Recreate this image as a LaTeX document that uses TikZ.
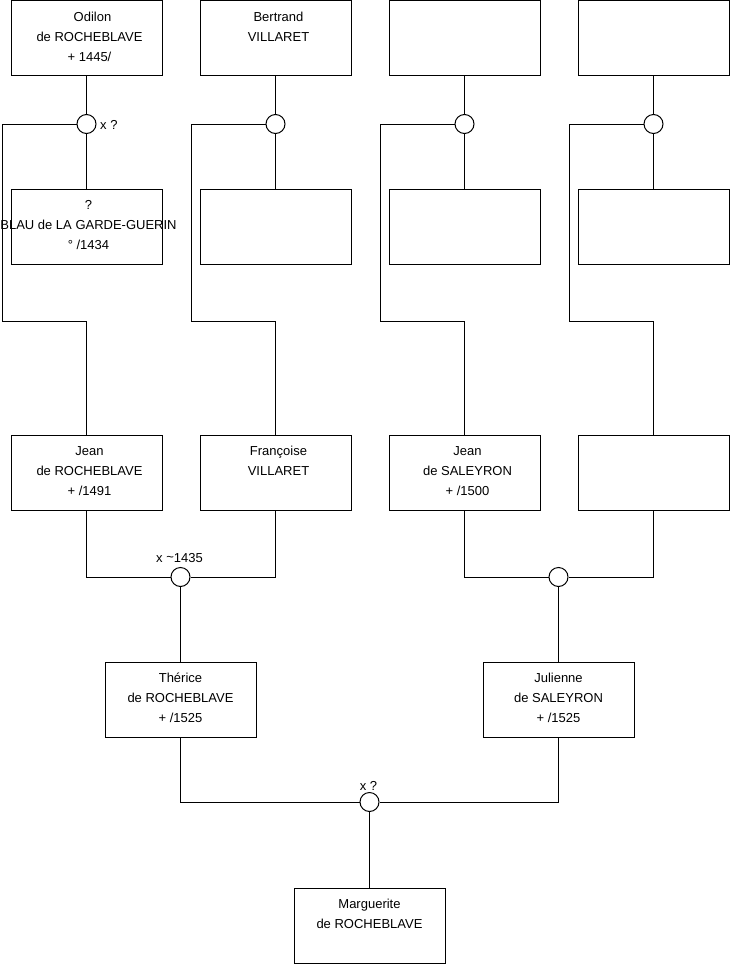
\documentclass[tikz,border=0pt]{standalone}
\usepackage{fontspec}
\setmainfont{Liberation Sans}
\begin{document}
\begin{tikzpicture}[x=1pt,y=-1pt,
  box/.style={draw, line width=1pt, minimum width=151pt, minimum height=75pt, inner sep=0pt},
  ring/.style={draw, circle, fill=white, line width=1pt, minimum size=19pt, inner sep=0pt},
  txt/.style={anchor=north, align=center, inner sep=0pt, font=\fontsize{13}{20}\selectfont},
  lbl/.style={inner sep=0pt, font=\fontsize{13}{15}\selectfont},
  wire/.style={line width=1pt}]
\clip (0,0) rectangle (740,975);
\useasboundingbox (0,0) rectangle (740,975);
% row 1
\node[box] (b1) at (86.5,38) {};
\node[box] (b2) at (275.5,38) {};
\node[box] (b3) at (464.5,38) {};
\node[box] (b4) at (653.5,38) {};
\node[txt] (b1t) at ([xshift=3pt,yshift=-11.5pt]b1.north) {\hspace*{6pt}Odilon\\de ROCHEBLAVE\\+ 1445/};
\node[txt] (b2t) at ([xshift=3pt,yshift=-11.5pt]b2.north) {Bertrand\\VILLARET};
% row 2
\node[box] (w1) at (86.5,227) {};
\node[box] (w2) at (275.5,227) {};
\node[box] (w3) at (464.5,227) {};
\node[box] (w4) at (653.5,227) {};
\node[txt] (w1t) at ([xshift=2pt,yshift=-11.5pt]w1.north) {?\\BLAU de LA GARDE-GUERIN\\° /1434};
% row 3
\node[box] (j1) at (86.5,472.5) {};
\node[box] (j2) at (275.5,472.5) {};
\node[box] (j3) at (464.5,472.5) {};
\node[box] (j4) at (653.5,472.5) {};
\node[txt] (j1t) at ([xshift=3pt,yshift=-11.5pt]j1.north) {Jean\\de ROCHEBLAVE\\+ /1491};
\node[txt] (j2t) at ([xshift=3pt,yshift=-11.5pt]j2.north) {Françoise\\VILLARET};
\node[txt] (j3t) at ([xshift=3pt,yshift=-11.5pt]j3.north) {Jean\\de SALEYRON\\+ /1500};
% row 4
\node[box] (t1) at (180.5,699.5) {};
\node[box] (t2) at (558.5,699.5) {};
\node[txt] (t1t) at ([yshift=-11.5pt]t1.north) {Thérice\\de ROCHEBLAVE\\+ /1525};
\node[txt] (t2t) at ([yshift=-11.5pt]t2.north) {Julienne\\de SALEYRON\\+ /1525};
% row 5
\node[box] (g) at (369.5,925.5) {};
\node[txt] (gt) at ([yshift=-11.5pt]g.north) {Marguerite\\de ROCHEBLAVE};
% circles
\node[ring] (c1) at (86.5,124) {};
\node[ring] (c2) at (275.5,124) {};
\node[ring] (c3) at (464.5,124) {};
\node[ring] (c4) at (653.5,124) {};
\node[ring] (m1) at (180.5,577) {};
\node[ring] (m2) at (558.5,577) {};
\node[ring] (m3) at (369.5,802) {};
% labels
\node[lbl, anchor=west] (l1) at (100,124.5) {x ?};
\node[lbl] (l2) at (179.5,558.5) {x \raisebox{1pt}{\char`\~}1435};
\node[lbl] (l3) at (368.5,785.5) {x ?};
% corner coordinates
\coordinate (k1a) at (2,124);   \coordinate (k1b) at (2,321);
\coordinate (k2a) at (191,124); \coordinate (k2b) at (191,321);
\coordinate (k3a) at (380,124); \coordinate (k3b) at (380,321);
\coordinate (k4a) at (569,124); \coordinate (k4b) at (569,321);
% connectors
\draw[wire] (b1) -- (c1); \draw[wire] (c1) -- (w1);
\draw[wire] (b2) -- (c2); \draw[wire] (c2) -- (w2);
\draw[wire] (b3) -- (c3); \draw[wire] (c3) -- (w3);
\draw[wire] (b4) -- (c4); \draw[wire] (c4) -- (w4);
\draw[wire] (c1.west) -- (k1a) -- (k1b) -| (j1.north);
\draw[wire] (c2.west) -- (k2a) -- (k2b) -| (j2.north);
\draw[wire] (c3.west) -- (k3a) -- (k3b) -| (j3.north);
\draw[wire] (c4.west) -- (k4a) -- (k4b) -| (j4.north);
\draw[wire] (j1.south) |- (m1.west);
\draw[wire] (j2.south) |- (m1.east);
\draw[wire] (m1) -- (t1);
\draw[wire] (j3.south) |- (m2.west);
\draw[wire] (j4.south) |- (m2.east);
\draw[wire] (m2) -- (t2);
\draw[wire] (t1.south) |- (m3.west);
\draw[wire] (t2.south) |- (m3.east);
\draw[wire] (m3) -- (g);
\end{tikzpicture}
\end{document}
